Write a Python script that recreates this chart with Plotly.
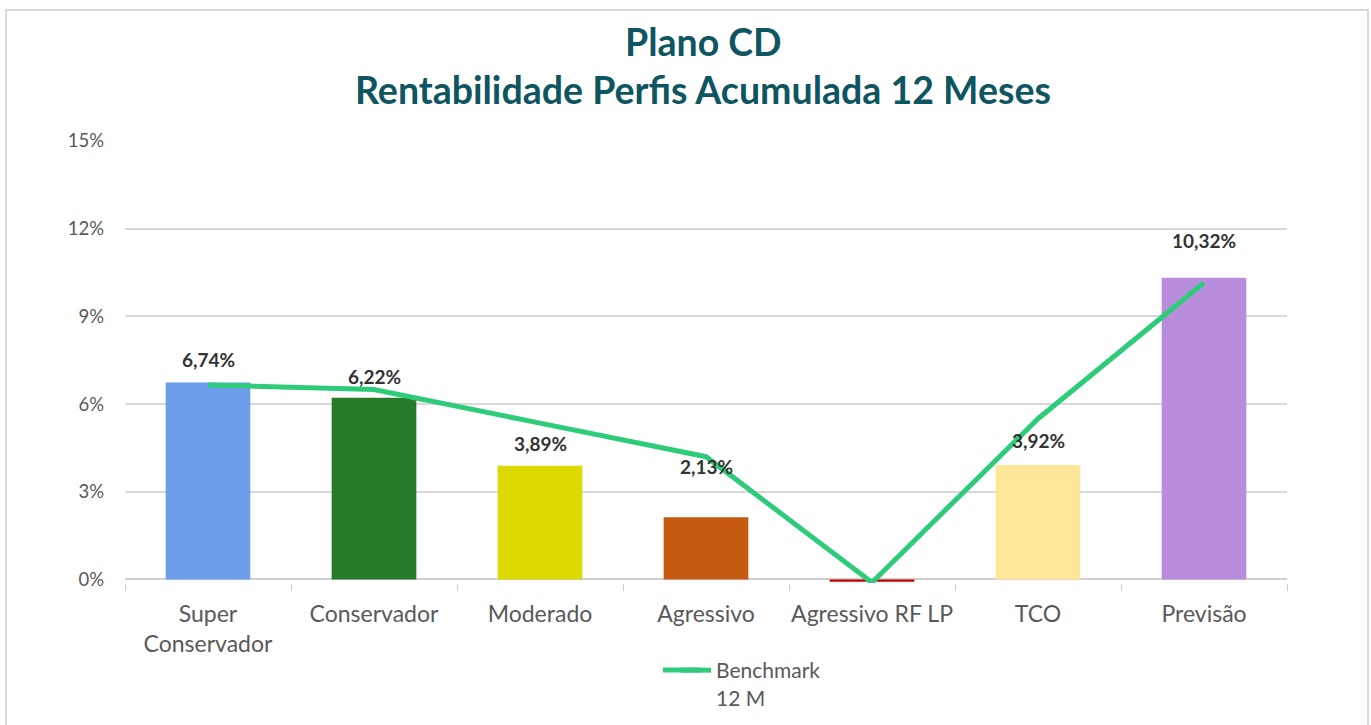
import plotly.graph_objects as go

categories = ["Super<br>Conservador", "Conservador", "Moderado", "Agressivo",
              "Agressivo RF LP", "TCO", "Previsão"]
rentabilidade = [6.74, 6.22, 3.89, 2.13, -0.08, 3.92, 10.32]
benchmark = [6.65, 6.50, 5.35, 4.20, -0.10, 5.50, 10.15]
label_texts = ["6,74%", "6,22%", "3,89%", "2,13%", "", "3,92%", "10,32%"]
y_ticks = [0, 3, 6, 9, 12, 15]
y_tick_labels = ["0%", "3%", "6%", "9%", "12%", "15%"]
title_lines = ["Plano CD", "Rentabilidade Perfis Acumulada 12 Meses"]

bar_colors = ["#6d9eeb", "#267b2a", "#dcd800", "#c55a11", "#c00000", "#ffe699", "#b88ddb"]
label_shift = [23, 21, 22, 51, 0, 24, 37]
line_color = "#2ecc7a"

W, H = 1371, 725
L, R, T, B = 125, 84, 141, 142
pw, ph = W - L - R, H - T - B

fig = go.Figure()
fig.add_trace(go.Bar(
    x=categories, y=rentabilidade, marker_color=bar_colors, marker_line_width=0,
    width=0.51, showlegend=False, hoverinfo="x+y",
))
fig.add_trace(go.Scatter(
    x=categories, y=benchmark, mode="lines", name="Benchmark<br>12 M",
    line=dict(color=line_color, width=5),
))

for c, v, t, s in zip(categories, rentabilidade, label_texts, label_shift):
    if t:
        fig.add_annotation(x=c, y=v, text="<b>" + t + "</b>", showarrow=False,
                           yshift=s, font=dict(family="Lato", size=19, color="#333333"))

def px_x(p):
    return (p - L) / pw

def px_y(p):
    return (H - B - p) / ph

for line_text, ypix in zip(title_lines, [42, 90]):
    fig.add_annotation(xref="paper", yref="paper", x=px_x(703), y=px_y(ypix),
                       xanchor="center", yanchor="middle", showarrow=False,
                       text="<b>" + line_text + "</b>",
                       font=dict(family="Lato", size=37.5, color="#0e5562"))

fig.add_shape(type="rect", xref="paper", yref="paper",
              x0=px_x(6), x1=px_x(1368), y0=px_y(740), y1=px_y(10),
              line=dict(color="#d9d9d9", width=2), fillcolor="rgba(0,0,0,0)", layer="below")
# longer legend swatch, as in the reference
fig.add_shape(type="line", xref="paper", yref="paper",
              x0=px_x(663), x1=px_x(700), y0=px_y(670), y1=px_y(670),
              line=dict(color=line_color, width=5))

fig.update_layout(
    width=W, height=H,
    margin=dict(l=L, r=R, t=T, b=B, autoexpand=False),
    paper_bgcolor="white", plot_bgcolor="white",
    font=dict(family="Lato", color="#595959"),
    bargap=0.49,
    legend=dict(orientation="h", x=px_x(676), xanchor="left", y=px_y(650), yanchor="top",
                valign="top",
                font=dict(family="Lato", size=21, color="#595959"),
                bgcolor="rgba(0,0,0,0)"),
)
fig.update_xaxes(
    showgrid=False, showline=False, automargin=False, tickangle=0,
    ticks="outside", tickson="boundaries", ticklen=7, tickcolor="#d0d0d0",
    tickfont=dict(family="Lato", size=23, color="#595959"),
    ticklabelstandoff=15,
)
fig.update_yaxes(
    range=[-0.12, 15], tickvals=y_ticks, ticktext=y_tick_labels, automargin=False,
    showgrid=True, gridcolor="#d9d9d9", gridwidth=1.5,
    zeroline=True, zerolinecolor="#d0d0d0", zerolinewidth=1.5,
    tickfont=dict(family="Lato", size=18.5, color="#595959"), ticks="",
    ticklabelstandoff=20,
)

fig.write_html("out.html", post_script="document.body.style.margin='0px';document.body.style.overflow='hidden';")
